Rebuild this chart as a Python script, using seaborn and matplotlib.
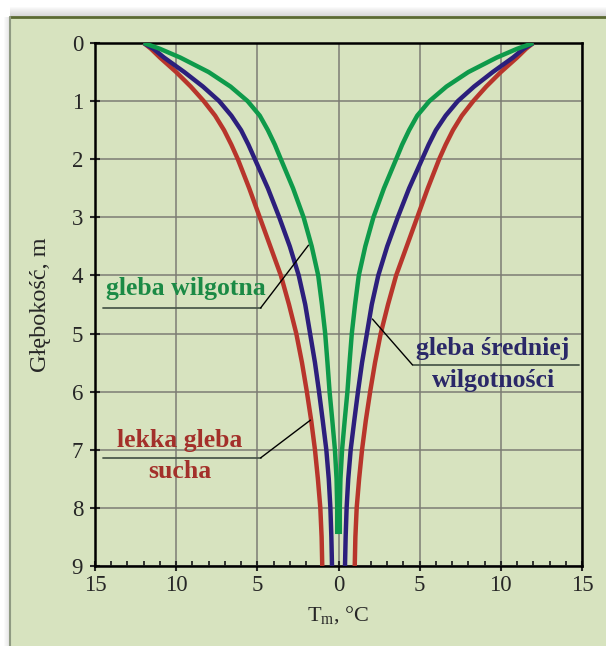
import numpy as np
import pandas as pd
import matplotlib
matplotlib.use("Agg")
import matplotlib.pyplot as plt
import seaborn as sns
from matplotlib.patches import Rectangle
from matplotlib.lines import Line2D
from matplotlib.ticker import MultipleLocator

# depth [m] and half-width of temperature amplitude [°C]
depth = [0, 0.1, 0.25, 0.5, 0.75, 1, 1.25, 1.5, 1.75, 2, 2.5, 3, 3.5, 4, 4.5,
         5, 5.5, 6, 6.5, 7, 7.5, 8, 8.5, 9]
temp_dry = [12, 11.55, 11.0, 10.0, 9.1, 8.3, 7.6, 7.05, 6.6, 6.2, 5.5, 4.85, 4.2, 3.55, 3.05,
            2.6, 2.25, 1.95, 1.68, 1.45, 1.27, 1.12, 1.04, 1.0]
temp_medium = [12, 11.4, 10.75, 9.5, 8.35, 7.35, 6.6, 6.0, 5.55, 5.15, 4.35, 3.65, 3.0, 2.45, 2.05,
               1.75, 1.45, 1.2, 0.97, 0.75, 0.6, 0.5, 0.44, 0.4]
depth_wet = [0, 0.1, 0.25, 0.5, 0.75, 1, 1.25, 1.5, 1.75, 2, 2.5, 3, 3.5, 4, 4.5,
             5, 5.5, 6, 6.5, 7, 7.5, 8, 8.45]
temp_wet = [12, 11.0, 9.75, 8.0, 6.65, 5.6, 4.85, 4.35, 3.92, 3.55, 2.8, 2.15, 1.65, 1.25, 1.02,
            0.82, 0.68, 0.55, 0.38, 0.22, 0.12, 0.08, 0.08]

xticks = [-15, -10, -5, 0, 5, 10, 15]
xtick_labels = ["15", "10", "5", "0", "5", "10", "15"]
yticks = list(range(10))

bg = "#d7e3bf"
c_dry = "#b8352b"
c_med = "#2c1f7c"
c_wet = "#0e9a4a"

sns.set_style("white")
plt.rcParams["font.family"] = ["Liberation Serif", "DejaVu Serif"]
plt.rcParams["mathtext.fontset"] = "custom"
plt.rcParams["mathtext.rm"] = "Liberation Serif"

fig = plt.figure(figsize=(6.06, 6.46), dpi=100)
fig.patch.set_facecolor("white")

# panel background, shadow and border
W, H = 606, 646
top = 1 - 17 / H
left = 10 / W
for i in range(10):
    fig.patches.append(Rectangle((left, top), 1, (10 - i) / H, transform=fig.transFigure,
                                 facecolor="#808080", alpha=0.035, edgecolor="none", zorder=-12))
for i in range(6):
    fig.patches.append(Rectangle((left - (6 - i) / W, 0), (6 - i) / W, top, transform=fig.transFigure,
                                 facecolor="#909090", alpha=0.04, edgecolor="none", zorder=-12))
fig.patches.append(Rectangle((left, 0), 1, top, transform=fig.transFigure,
                             facecolor=bg, edgecolor="none", zorder=-11))
fig.lines.append(Line2D([left, 1], [top, top], transform=fig.transFigure, color="#5b6a33", lw=2))
fig.lines.append(Line2D([left, left], [0, top], transform=fig.transFigure, color="#8f9a82", lw=1.5))

ax = fig.add_axes([95 / W, 1 - 566 / H, 487 / W, 523 / H])
ax.set_facecolor(bg)

curves = [
    (depth, temp_dry, c_dry),
    (depth, temp_medium, c_med),
    (depth_wet, temp_wet, c_wet),
]
for d, t, c in curves:
    df = pd.DataFrame({"depth": d, "temp": t})
    for sign in (-1, 1):
        sns.lineplot(x=sign * df["temp"], y=df["depth"], ax=ax, color=c, lw=3.2,
                     sort=False, estimator=None, solid_capstyle="butt",
                     solid_joinstyle="round", zorder=3)

ax.set_xlim(-15, 15)
ax.set_ylim(9, 0)
ax.set_xticks(xticks)
ax.set_xticklabels(xtick_labels)
ax.set_yticks(yticks)
ax.xaxis.set_minor_locator(MultipleLocator(1))
ax.grid(True, which="major", color="#7c7c74", lw=1.1)
ax.tick_params(axis="x", which="major", direction="inout", length=7, width=1.5,
               labelsize=16.5, pad=3, bottom=True)
ax.tick_params(axis="x", which="minor", direction="in", length=3.5, width=1.3, bottom=True)
ax.tick_params(axis="y", which="major", direction="inout", length=7, width=1.5,
               labelsize=16.5, pad=5, left=True)
for s in ax.spines.values():
    s.set_color("black")
    s.set_linewidth(1.8)

ax.set_xlabel(r"T$_{\rm m}$, °C", fontsize=16, labelpad=6)
ax.set_ylabel("Głębokość, m", fontsize=17.5, labelpad=15)

# annotations
line_kw = dict(color="#4c5a4c", lw=1.3, clip_on=False, zorder=4)
lead_kw = dict(color="black", lw=1.0, clip_on=False, zorder=4)
text_kw = dict(fontsize=18.5, fontweight="bold", ha="center", va="center", zorder=5)

ax.text(-9.43, 4.22, "gleba wilgotna", color="#1b8a45", **text_kw)
ax.plot([-14.48, -4.8], [4.56, 4.56], **line_kw)
ax.plot([-4.8, -1.85], [4.56, 3.48], **lead_kw)

ax.text(-9.8, 6.84, "lekka gleba", color="#a3302a", **text_kw)
ax.text(-9.8, 7.38, "sucha", color="#a3302a", **text_kw)
ax.plot([-14.48, -4.8], [7.14, 7.14], **line_kw)
ax.plot([-4.8, -1.73], [7.14, 6.49], **lead_kw)

ax.text(9.5, 5.26, "gleba średniej", color="#2a2868", **text_kw)
ax.text(9.55, 5.8, "wilgotności", color="#2a2868", **text_kw)
ax.plot([4.56, 14.79], [5.54, 5.54], **line_kw)
ax.plot([4.56, 2.09], [5.54, 4.75], **lead_kw)

fig.savefig("out.png", dpi=100, facecolor=fig.get_facecolor())
